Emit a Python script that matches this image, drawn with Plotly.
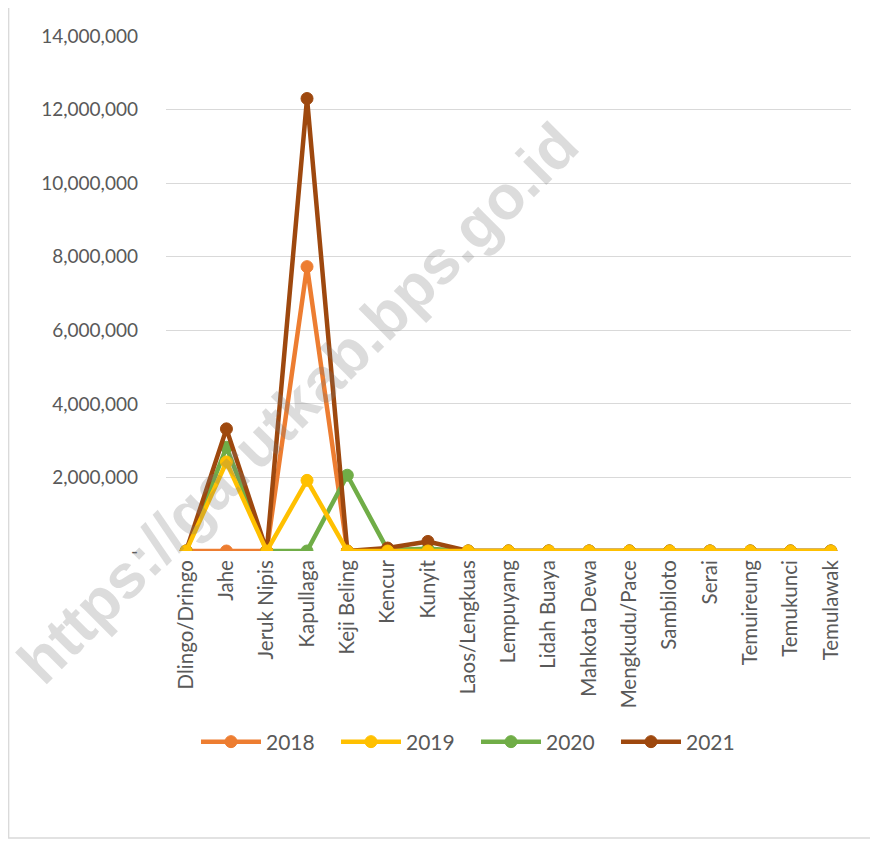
import plotly.graph_objects as go

categories = ["Dlingo/Dringo", "Jahe", "Jeruk Nipis", "Kapullaga", "Keji Beling", "Kencur",
              "Kunyit", "Laos/Lengkuas", "Lempuyang", "Lidah Buaya", "Mahkota Dewa",
              "Mengkudu/Pace", "Sambiloto", "Serai", "Temuireung", "Temukunci", "Temulawak"]

v2018 = [0, 0, 0, 7730000, 0, 0, 0, 0, 0, 0, 0, 0, 0, 0, 0, 0, 0]
v2019 = [0, 2420000, 0, 1920000, 0, 0, 0, 0, 0, 0, 0, 0, 0, 0, 0, 0, 0]
v2020 = [0, 2820000, 0, 0, 2060000, 30000, 60000, 0, 0, 0, 0, 0, 0, 0, 0, 0, 0]
v2021 = [0, 3320000, 0, 12300000, 0, 80000, 260000, 0, 0, 0, 0, 0, 0, 0, 0, 0, 0]

tick_vals = [0, 2000000, 4000000, 6000000, 8000000, 10000000, 12000000, 14000000]
tick_text = ["-", "2,000,000", "4,000,000", "6,000,000", "8,000,000", "10,000,000",
             "12,000,000", "14,000,000"]

series = [
    ("2018", v2018, "#ED7D31", 1),
    ("2020", v2020, "#70AD47", 3),
    ("2021", v2021, "#9E480E", 4),
    ("2019", v2019, "#FFC000", 2),
]

fig = go.Figure()
for name, vals, color, rank in series:
    fig.add_trace(go.Scatter(
        x=categories, y=vals, name=name, mode="lines+markers",
        line=dict(color=color, width=4.5),
        marker=dict(color=color, size=12, line=dict(color=color, width=1)),
        legendrank=rank,
    ))

font_family = "Lato, Calibri, 'Noto Sans', sans-serif"

# page body has an 8px margin, so the figure origin sits at (8, 8) in the window
W, H = 870, 833
L, R, T, B = 158, 27, 28, 290
PW, PH = W - L - R, H - T - B

fig.update_layout(
    width=W, height=H,
    margin=dict(l=L, r=R, t=T, b=B),
    paper_bgcolor="white", plot_bgcolor="white",
    font=dict(family=font_family, size=19, color="#595959"),
    showlegend=True,
    legend=dict(orientation="h", x=(196 - 8 - L) / PW, xanchor="left",
                y=(543 - 734) / PH, yanchor="middle",
                font=dict(size=21, color="#595959"), traceorder="normal",
                itemwidth=60, entrywidth=65, entrywidthmode="pixels",
                bgcolor="rgba(0,0,0,0)"),
    xaxis=dict(type="category", tickangle=-90, showgrid=False, showline=False,
               ticks="", tickfont=dict(size=20.5, color="#595959"), zeroline=False,
               ticklabelstandoff=4,
               range=[-0.5, len(categories) - 0.5]),
    yaxis=dict(range=[0, 14000000], tickvals=tick_vals, ticktext=tick_text,
               showgrid=True, gridcolor="#D9D9D9", gridwidth=1.3, zeroline=False,
               showline=False, ticks="", ticklabelstandoff=27,
               tickfont=dict(size=19, color="#595959")),
)

# chart-area border
fig.add_shape(type="rect", xref="paper", yref="paper",
              x0=(0.7 - L) / PW, x1=(W + 6 - L) / PW,
              y0=(H - T - B - (830 - T)) / PH, y1=(PH + T + 6) / PH,
              line=dict(color="#D9D9D9", width=1.3), fillcolor="rgba(0,0,0,0)", layer="below")

# watermark
fig.add_annotation(text="https://garutkab.bps.go.id", xref="paper", yref="paper",
                   x=(297 - 8 - L) / PW, y=(543 - 395) / PH, showarrow=False,
                   textangle=-45, xanchor="center", yanchor="middle",
                   font=dict(family="Liberation Sans, Arial, sans-serif", size=62,
                             color="rgba(120,120,120,0.26)", weight="bold"))

fig.write_html("out.html")
